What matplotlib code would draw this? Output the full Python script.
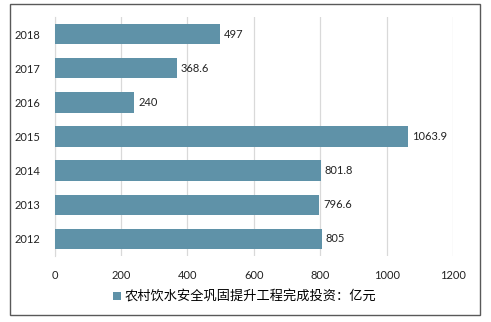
import matplotlib.pyplot as plt
from matplotlib.patches import Rectangle

years = ["2012", "2013", "2014", "2015", "2016", "2017", "2018"]
invest = [805, 796.6, 801.8, 1063.9, 240, 368.6, 497]
labels = ["805", "796.6", "801.8", "1063.9", "240", "368.6", "497"]
legend_name = "农村饮水安全巩固提升工程完成投资：亿元"

bar_color = "#5F92A8"

plt.rcParams['font.family'] = ['Lato', 'Noto Sans CJK SC', 'DejaVu Sans']

fig = plt.figure(figsize=(4.91, 3.22), dpi=100)
W, H = 491, 322
ax = fig.add_axes([54.5 / W, 1 - 256 / H, (453 - 54.5) / W, (256 - 17) / H])

pos = list(range(len(years)))
bars = ax.barh(pos, invest, height=0.6, color=bar_color, label=legend_name, zorder=3)
for p, v, t in zip(pos, invest, labels):
    ax.text(v + 12, p, t, va="center", ha="left", fontsize=8, color="#222222")

ax.set_xlim(0, 1200)
ax.set_ylim(-0.5, len(years) - 0.5)
ax.set_xticks(range(0, 1201, 200))
ax.set_yticks(pos)
ax.set_yticklabels(years)
ax.grid(axis="x", color="#D9D9D9", linewidth=0.9, zorder=0)
for s in ["top", "right", "bottom"]:
    ax.spines[s].set_visible(False)
ax.spines["left"].set_color("#D9D9D9")
ax.tick_params(axis="both", length=0, labelsize=8, colors="#222222")
ax.tick_params(axis="x", pad=10)
ax.tick_params(axis="y", pad=10)

leg = fig.legend(handles=[bars], labels=[legend_name], loc="center",
                 bbox_to_anchor=(245 / W, 1 - 297 / H), frameon=False,
                 handlelength=0.6, handleheight=0.6, handletextpad=0.3,
                 prop={"family": ["Noto Sans CJK SC", "DejaVu Sans"], "size": 9.5})

fig.patches.append(Rectangle((9.5 / W, 1 - 314.5 / H), (480 - 9.5) / W, (314.5 - 3.5) / H,
                             transform=fig.transFigure, fill=False,
                             edgecolor="#595959", linewidth=1.0))

fig.savefig("out.png", dpi=100)
